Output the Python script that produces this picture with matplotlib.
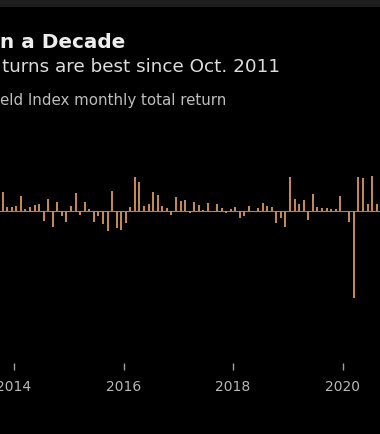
import matplotlib
matplotlib.use("Agg")
import matplotlib.pyplot as plt
from matplotlib.patches import Rectangle

# Monthly total returns (%) of the high-yield index, Oct 2013 - Aug 2020
months = [
    "2013-10", "2013-11", "2013-12",
    "2014-01", "2014-02", "2014-03", "2014-04", "2014-05", "2014-06",
    "2014-07", "2014-08", "2014-09", "2014-10", "2014-11", "2014-12",
    "2015-01", "2015-02", "2015-03", "2015-04", "2015-05", "2015-06",
    "2015-07", "2015-08", "2015-09", "2015-10", "2015-11", "2015-12",
    "2016-01", "2016-02", "2016-03", "2016-04", "2016-05", "2016-06",
    "2016-07", "2016-08", "2016-09", "2016-10", "2016-11", "2016-12",
    "2017-01", "2017-02", "2017-03", "2017-04", "2017-05", "2017-06",
    "2017-07", "2017-08", "2017-09", "2017-10", "2017-11", "2017-12",
    "2018-01", "2018-02", "2018-03", "2018-04", "2018-05", "2018-06",
    "2018-07", "2018-08", "2018-09", "2018-10", "2018-11", "2018-12",
    "2019-01", "2019-02", "2019-03", "2019-04", "2019-05", "2019-06",
    "2019-07", "2019-08", "2019-09", "2019-10", "2019-11", "2019-12",
    "2020-01", "2020-02", "2020-03", "2020-04", "2020-05", "2020-06",
    "2020-07", "2020-08",
]
returns = [
    2.46, 0.52, 0.53,
    0.71, 2.03, 0.24, 0.58, 0.87, 0.94,
    -1.33, 1.55, -2.07, 1.18, -0.68, -1.45,
    0.66, 2.43, -0.51, 1.15, 0.28, -1.43,
    -0.64, -1.75, -2.58, 2.70, -2.23, -2.55,
    -1.61, 0.57, 4.44, 3.90, 0.62, 0.92,
    2.58, 2.09, 0.67, 0.36, -0.47, 1.85,
    1.35, 1.46, -0.22, 1.15, 0.87, 0.14,
    1.06, 0.01, 0.91, 0.42, -0.26, 0.30,
    0.59, -0.85, -0.60, 0.65, -0.03, 0.37,
    1.09, 0.74, 0.56, -1.60, -0.86, -2.14,
    4.52, 1.66, 0.94, 1.42, -1.19, 2.28,
    0.56, 0.40, 0.35, 0.28, 0.26, 2.03,
    0.03, -1.41, -11.46, 4.51, 4.41, 0.98,
    4.69, 0.95,
]
tick_years = [2014, 2016, 2018, 2020]
tick_labels = ["2014", "2016", "2018", "2020"]

title = "n a Decade"
subtitle = "turns are best since Oct. 2011"
source_line = "eld Index monthly total return"

W, H = 380, 434
fig = plt.figure(figsize=(W / 100, H / 100), dpi=100, facecolor="black")

# top dark strip
fig.patches.append(Rectangle((0, 1 - 7 / H), 1, 7 / H, transform=fig.transFigure,
                             facecolor="#1e1e1e", edgecolor="none", zorder=0))

ax = fig.add_axes([0, 1 - 363 / H, 1, (363 - 120) / H])
ax.set_facecolor("black")

x = [int(m[:4]) + (int(m[5:]) - 0.5) / 12 for m in months]
ax.bar(x, returns, width=0.45 / 12, color="#c48852", edgecolor="none", zorder=2)
ax.axhline(0, color="#9a8670", lw=0.8, zorder=1)

ax.set_xlim(2014 - 14 / 54.75, 2014 + 366 / 54.75)
ax.set_ylim(-20, 12)
for s in ax.spines.values():
    s.set_visible(False)
ax.set_yticks([])
ax.set_xticks(tick_years)
ax.set_xticklabels(tick_labels)
ax.tick_params(axis="x", colors="#a0a0a0", length=5, width=1, pad=7,
               labelsize=10, labelcolor="#b8b8b8")

def ftext(px, py, s, **kw):
    fig.text(px / W, 1 - py / H, s, va="baseline", ha="left", **kw)

ftext(0, 48, title, fontsize=14.4, fontweight="bold", color="#eeeeee")
ftext(2, 72, subtitle, fontsize=13.2, color="#dddddd")
ftext(0, 105, source_line, fontsize=10.8, color="#bdbdbd")

fig.savefig("out.png", dpi=100, facecolor="black")
